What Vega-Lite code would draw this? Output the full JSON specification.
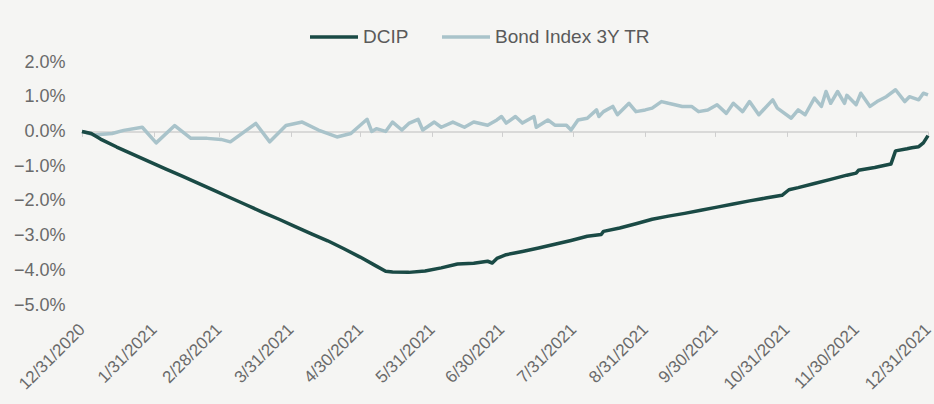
{
  "$schema": "https://vega.github.io/schema/vega-lite/v6.json",
  "width": 846,
  "height": 243,
  "autosize": "none",
  "padding": {"left": 82, "top": 62, "right": 6, "bottom": 99},
  "background": "#f5f5f3",
  "config": {"font": "Liberation Sans", "view": {"stroke": null}},
  "datasets": {
    "dcip": [
      {"date": "2020-12-31", "value": 0},
      {"date": "2021-01-04", "value": -0.06},
      {"date": "2021-01-08", "value": -0.22},
      {"date": "2021-01-15", "value": -0.45},
      {"date": "2021-01-22", "value": -0.66},
      {"date": "2021-01-29", "value": -0.87},
      {"date": "2021-02-05", "value": -1.08},
      {"date": "2021-02-12", "value": -1.28},
      {"date": "2021-02-19", "value": -1.49},
      {"date": "2021-02-26", "value": -1.70},
      {"date": "2021-03-05", "value": -1.91},
      {"date": "2021-03-12", "value": -2.12},
      {"date": "2021-03-19", "value": -2.33},
      {"date": "2021-03-26", "value": -2.53},
      {"date": "2021-04-02", "value": -2.74},
      {"date": "2021-04-09", "value": -2.95},
      {"date": "2021-04-16", "value": -3.15},
      {"date": "2021-04-23", "value": -3.38},
      {"date": "2021-04-30", "value": -3.62},
      {"date": "2021-05-07", "value": -3.88},
      {"date": "2021-05-11", "value": -4.03},
      {"date": "2021-05-14", "value": -4.05},
      {"date": "2021-05-21", "value": -4.06},
      {"date": "2021-05-28", "value": -4.02},
      {"date": "2021-06-04", "value": -3.93},
      {"date": "2021-06-11", "value": -3.82},
      {"date": "2021-06-18", "value": -3.80},
      {"date": "2021-06-24", "value": -3.74},
      {"date": "2021-06-26", "value": -3.79},
      {"date": "2021-06-28", "value": -3.66},
      {"date": "2021-07-02", "value": -3.55},
      {"date": "2021-07-09", "value": -3.46},
      {"date": "2021-07-16", "value": -3.36},
      {"date": "2021-07-23", "value": -3.25},
      {"date": "2021-07-30", "value": -3.14},
      {"date": "2021-08-06", "value": -3.02},
      {"date": "2021-08-12", "value": -2.97},
      {"date": "2021-08-13", "value": -2.88},
      {"date": "2021-08-20", "value": -2.78},
      {"date": "2021-08-27", "value": -2.66},
      {"date": "2021-09-03", "value": -2.53},
      {"date": "2021-09-10", "value": -2.44},
      {"date": "2021-09-17", "value": -2.36},
      {"date": "2021-09-24", "value": -2.27},
      {"date": "2021-10-01", "value": -2.18},
      {"date": "2021-10-08", "value": -2.09},
      {"date": "2021-10-15", "value": -2.00},
      {"date": "2021-10-22", "value": -1.92},
      {"date": "2021-10-29", "value": -1.84},
      {"date": "2021-11-01", "value": -1.68},
      {"date": "2021-11-05", "value": -1.62},
      {"date": "2021-11-12", "value": -1.50},
      {"date": "2021-11-19", "value": -1.38},
      {"date": "2021-11-26", "value": -1.26},
      {"date": "2021-11-30", "value": -1.20},
      {"date": "2021-12-01", "value": -1.12},
      {"date": "2021-12-08", "value": -1.04},
      {"date": "2021-12-15", "value": -0.94},
      {"date": "2021-12-17", "value": -0.56},
      {"date": "2021-12-22", "value": -0.50},
      {"date": "2021-12-24", "value": -0.47},
      {"date": "2021-12-27", "value": -0.44},
      {"date": "2021-12-29", "value": -0.33},
      {"date": "2021-12-31", "value": -0.12}
    ],
    "bond": [
      {"date": "2020-12-31", "value": 0.00},
      {"date": "2021-01-05", "value": -0.10},
      {"date": "2021-01-13", "value": -0.06},
      {"date": "2021-01-18", "value": 0.03},
      {"date": "2021-01-26", "value": 0.12},
      {"date": "2021-02-01", "value": -0.33},
      {"date": "2021-02-09", "value": 0.17},
      {"date": "2021-02-16", "value": -0.20},
      {"date": "2021-02-23", "value": -0.20},
      {"date": "2021-03-01", "value": -0.23},
      {"date": "2021-03-05", "value": -0.30},
      {"date": "2021-03-16", "value": 0.23},
      {"date": "2021-03-22", "value": -0.30},
      {"date": "2021-03-29", "value": 0.17},
      {"date": "2021-04-05", "value": 0.27},
      {"date": "2021-04-12", "value": 0.04},
      {"date": "2021-04-20", "value": -0.16},
      {"date": "2021-04-26", "value": -0.06},
      {"date": "2021-05-03", "value": 0.35},
      {"date": "2021-05-05", "value": 0.00},
      {"date": "2021-05-07", "value": 0.08},
      {"date": "2021-05-11", "value": 0.00},
      {"date": "2021-05-14", "value": 0.27},
      {"date": "2021-05-18", "value": 0.04},
      {"date": "2021-05-21", "value": 0.23},
      {"date": "2021-05-25", "value": 0.35},
      {"date": "2021-05-27", "value": 0.04},
      {"date": "2021-06-01", "value": 0.27},
      {"date": "2021-06-04", "value": 0.12},
      {"date": "2021-06-09", "value": 0.27},
      {"date": "2021-06-14", "value": 0.12},
      {"date": "2021-06-18", "value": 0.27},
      {"date": "2021-06-24", "value": 0.18},
      {"date": "2021-06-28", "value": 0.33},
      {"date": "2021-06-30", "value": 0.43},
      {"date": "2021-07-02", "value": 0.24},
      {"date": "2021-07-06", "value": 0.43},
      {"date": "2021-07-09", "value": 0.24},
      {"date": "2021-07-14", "value": 0.43},
      {"date": "2021-07-15", "value": 0.12},
      {"date": "2021-07-20", "value": 0.33},
      {"date": "2021-07-23", "value": 0.18},
      {"date": "2021-07-28", "value": 0.18},
      {"date": "2021-07-30", "value": 0.04},
      {"date": "2021-08-02", "value": 0.33},
      {"date": "2021-08-06", "value": 0.38},
      {"date": "2021-08-10", "value": 0.62},
      {"date": "2021-08-11", "value": 0.43},
      {"date": "2021-08-13", "value": 0.57},
      {"date": "2021-08-17", "value": 0.72},
      {"date": "2021-08-19", "value": 0.48},
      {"date": "2021-08-24", "value": 0.81},
      {"date": "2021-08-27", "value": 0.57},
      {"date": "2021-08-31", "value": 0.62},
      {"date": "2021-09-03", "value": 0.67},
      {"date": "2021-09-07", "value": 0.86},
      {"date": "2021-09-10", "value": 0.81},
      {"date": "2021-09-16", "value": 0.72},
      {"date": "2021-09-20", "value": 0.72},
      {"date": "2021-09-23", "value": 0.57},
      {"date": "2021-09-27", "value": 0.62},
      {"date": "2021-10-01", "value": 0.77},
      {"date": "2021-10-05", "value": 0.52},
      {"date": "2021-10-08", "value": 0.81},
      {"date": "2021-10-12", "value": 0.57},
      {"date": "2021-10-15", "value": 0.86},
      {"date": "2021-10-19", "value": 0.48},
      {"date": "2021-10-25", "value": 0.91},
      {"date": "2021-10-27", "value": 0.67},
      {"date": "2021-11-02", "value": 0.38},
      {"date": "2021-11-05", "value": 0.62},
      {"date": "2021-11-08", "value": 0.48},
      {"date": "2021-11-12", "value": 0.96},
      {"date": "2021-11-15", "value": 0.72},
      {"date": "2021-11-17", "value": 1.15},
      {"date": "2021-11-19", "value": 0.81},
      {"date": "2021-11-22", "value": 1.15},
      {"date": "2021-11-25", "value": 0.81},
      {"date": "2021-11-26", "value": 1.04},
      {"date": "2021-11-30", "value": 0.77},
      {"date": "2021-12-02", "value": 1.10},
      {"date": "2021-12-06", "value": 0.72},
      {"date": "2021-12-09", "value": 0.86},
      {"date": "2021-12-13", "value": 1.00},
      {"date": "2021-12-17", "value": 1.20},
      {"date": "2021-12-21", "value": 0.86},
      {"date": "2021-12-23", "value": 1.00},
      {"date": "2021-12-27", "value": 0.91},
      {"date": "2021-12-29", "value": 1.10},
      {"date": "2021-12-31", "value": 1.05}
    ]
  },
  "encoding": {
    "x": {
      "field": "date",
      "type": "temporal",
      "scale": {
        "type": "utc",
        "domain": [
          {"year": 2020, "month": 12, "date": 31, "utc": true},
          {"year": 2021, "month": 12, "date": 31, "utc": true}
        ]
      },
      "axis": {
        "title": null,
        "values": [
          {"year": 2020, "month": 12, "date": 31, "utc": true},
          {"year": 2021, "month": 1, "date": 31, "utc": true},
          {"year": 2021, "month": 2, "date": 28, "utc": true},
          {"year": 2021, "month": 3, "date": 31, "utc": true},
          {"year": 2021, "month": 4, "date": 30, "utc": true},
          {"year": 2021, "month": 5, "date": 31, "utc": true},
          {"year": 2021, "month": 6, "date": 30, "utc": true},
          {"year": 2021, "month": 7, "date": 31, "utc": true},
          {"year": 2021, "month": 8, "date": 31, "utc": true},
          {"year": 2021, "month": 9, "date": 30, "utc": true},
          {"year": 2021, "month": 10, "date": 31, "utc": true},
          {"year": 2021, "month": 11, "date": 30, "utc": true},
          {"year": 2021, "month": 12, "date": 31, "utc": true}
        ],
        "labelExpr": "utcFormat(datum.value, '%-m/%-d/%Y')",
        "offset": -173.6,
        "grid": false,
        "domainColor": "#cfcfcf",
        "domainWidth": 1.5,
        "tickColor": "#cfcfcf",
        "tickSize": 5,
        "tickWidth": 1,
        "labelAngle": -45,
        "labelAlign": "right",
        "labelBaseline": "middle",
        "labelPadding": 190,
        "labelFontSize": 17,
        "labelColor": "#6a6a6a",
        "labelOverlap": false,
        "labelBound": false,
        "labelFlush": false
      }
    },
    "y": {
      "field": "value",
      "type": "quantitative",
      "scale": {"domain": [-5, 2], "nice": false, "zero": false},
      "axis": {
        "title": null,
        "values": [-5, -4, -3, -2, -1, 0, 1, 2],
        "labelExpr": "format(datum.value, '.1f') + '%'",
        "domain": false,
        "ticks": false,
        "grid": false,
        "labelPadding": 17,
        "labelFontSize": 18,
        "labelColor": "#6a6a6a"
      }
    },
    "color": {
      "field": "series",
      "type": "nominal",
      "scale": {"domain": ["DCIP", "Bond Index 3Y TR"], "range": ["#1a4a45", "#a9c3ca"]},
      "legend": {
        "title": null,
        "orient": "none",
        "direction": "horizontal",
        "legendX": 226,
        "legendY": -51,
        "symbolType": "stroke",
        "symbolSize": 2304,
        "symbolStrokeWidth": 3.5,
        "labelFontSize": 19,
        "labelColor": "#5a5a5a",
        "labelOffset": 3,
        "columnPadding": 26
      }
    }
  },
  "layer": [
    {
      "data": {"name": "bond"},
      "transform": [{"calculate": "'Bond Index 3Y TR'", "as": "series"}],
      "mark": {"type": "line", "strokeWidth": 3.5, "strokeJoin": "round"}
    },
    {
      "data": {"name": "dcip"},
      "transform": [{"calculate": "'DCIP'", "as": "series"}],
      "mark": {"type": "line", "strokeWidth": 3.5, "strokeJoin": "round"}
    }
  ]
}
